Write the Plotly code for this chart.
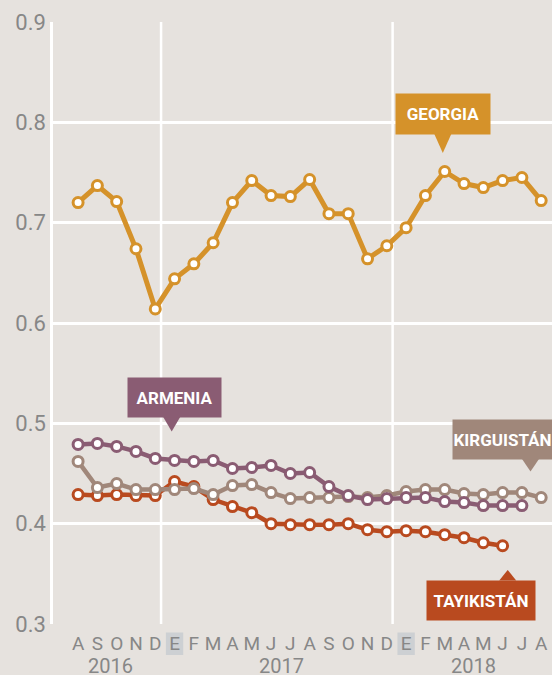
import plotly.graph_objects as go

# -----------------------------
# Data (monthly, Aug 2016 - Aug 2018)
# -----------------------------
months = ["A", "S", "O", "N", "D",
          "E", "F", "M", "A", "M", "J", "J", "A", "S", "O", "N", "D",
          "E", "F", "M", "A", "M", "J", "J", "A"]
years = ["2016", "2017", "2018"]

georgia = [0.720, 0.737, 0.721, 0.674, 0.614,
           0.644, 0.659, 0.680, 0.720, 0.742, 0.727, 0.726, 0.743, 0.709, 0.709, 0.664, 0.677,
           0.695, 0.727, 0.751, 0.739, 0.735, 0.742, 0.745, 0.722]
armenia = [0.479, 0.480, 0.477, 0.472, 0.465,
           0.463, 0.462, 0.463, 0.455, 0.456, 0.458, 0.450, 0.451, 0.437, 0.428, 0.424, 0.425,
           0.426, 0.426, 0.422, 0.421, 0.418, 0.418, 0.418, None]
kirguistan = [0.462, 0.436, 0.440, 0.434, 0.434,
              0.434, 0.435, 0.429, 0.438, 0.439, 0.431, 0.425, 0.426, 0.426, 0.427, 0.426, 0.428,
              0.432, 0.434, 0.434, 0.430, 0.429, 0.431, 0.431, 0.426]
tayikistan = [0.429, 0.428, 0.429, 0.428, 0.428,
              0.442, 0.437, 0.424, 0.417, 0.411, 0.400, 0.399, 0.399, 0.399, 0.400, 0.394, 0.392,
              0.393, 0.392, 0.389, 0.386, 0.381, 0.378, None, None]

x = list(range(len(months)))

BG = "#e6e2de"
GRAY = "#878787"
COLORS = {
    "GEORGIA": "#d5922a",
    "ARMENIA": "#8a5c73",
    "KIRGUISTÁN": "#a0877a",
    "TAYIKISTÁN": "#b94a1f",
}

# plot area in pixels (for label boxes)
L, R, T, B = 53, 552, 22, 624


def px(xp, yp):
    return (xp - L) / (R - L), (B - yp) / (B - T)


fig = go.Figure()

series = [("TAYIKISTÁN", tayikistan, 4.5), ("KIRGUISTÁN", kirguistan, 4.5),
          ("ARMENIA", armenia, 4.5), ("GEORGIA", georgia, 5)]
for name, vals, w in series:
    c = COLORS[name]
    fig.add_trace(go.Scatter(
        x=x, y=vals, mode="lines+markers", name=name,
        line=dict(color=c, width=w),
        marker=dict(size=10, color="white", line=dict(color=c, width=3)),
        showlegend=False, hoverinfo="skip", cliponaxis=False
    ))

shapes = []
# year separators
for xv in [4.3, 16.3]:
    shapes.append(dict(type="line", xref="x", yref="paper", x0=xv, x1=xv, y0=0, y1=1,
                       line=dict(color="white", width=2.5), layer="below"))
# highlighted "E" ticks
for xv in [5, 17]:
    y0 = px(0, 655)[1]
    y1 = px(0, 632.5)[1]
    shapes.append(dict(type="rect", xref="x", yref="paper", x0=xv - 0.45, x1=xv + 0.45,
                       y0=y0, y1=y1, fillcolor="#cdd0d3", line=dict(width=0), layer="below"))

annotations = []
# label boxes: (name, center x px, center y px, width, height, tip x px, tip y px)
boxes = [
    ("GEORGIA", 442.8, 114, 94, 40, 442.8, 153),
    ("ARMENIA", 174, 397.5, 93, 39, 171.7, 431.5),
    ("KIRGUISTÁN", 502.7, 439.5, 99, 39, 530.5, 471.5),
    ("TAYIKISTÁN", 480.8, 600, 108, 39, 507.7, 570),
]
for name, cx, cy, w, h, tx, ty in boxes:
    c = COLORS[name]
    ax, ay = px(cx, cy)
    annotations.append(dict(
        x=ax, y=ay, xref="paper", yref="paper", text="<b>%s</b>" % name,
        showarrow=False, width=w, height=h, bgcolor=c, borderpad=0,
        font=dict(family="Roboto", size=17, color="white"),
        xanchor="center", yanchor="middle", align="center", valign="middle"
    ))
    base = cy + h / 2 if ty > cy else cy - h / 2
    p1 = px(tx - 8.5, base)
    p2 = px(tx + 8.5, base)
    p3 = px(tx, ty)
    shapes.append(dict(
        type="path", xref="paper", yref="paper",
        path="M %f %f L %f %f L %f %f Z" % (p1[0], p1[1], p2[0], p2[1], p3[0], p3[1]),
        fillcolor=c, line=dict(width=0)
    ))

# year labels under month ticks
for yr, xv in zip(years, [1.7, 10.55, 20.5]):
    annotations.append(dict(
        x=xv, y=px(0, 652)[1], xref="x", yref="paper", text=yr, showarrow=False,
        font=dict(family="Roboto", size=20, color=GRAY),
        xanchor="center", yanchor="top"
    ))

fig.update_layout(
    width=552, height=675,
    margin=dict(l=L, r=552 - R, t=T, b=675 - B),
    paper_bgcolor=BG, plot_bgcolor=BG,
    shapes=shapes, annotations=annotations,
    xaxis=dict(
        range=[-1.3, 24.56], tickvals=x, ticktext=months,
        showgrid=False, zeroline=False, showline=False, ticks="",
        ticklabelstandoff=6,
        tickfont=dict(family="Roboto", size=19, color=GRAY),
        fixedrange=True
    ),
    yaxis=dict(
        range=[0.3, 0.9], tickvals=[0.3, 0.4, 0.5, 0.6, 0.7, 0.8, 0.9],
        ticktext=["0.3", "0.4", "0.5", "0.6", "0.7", "0.8", "0.9"],
        showgrid=True, gridcolor="white", gridwidth=2.5,
        zeroline=False, showline=True, linecolor="white", linewidth=2.5,
        ticks="", ticklabelstandoff=0,
        tickfont=dict(family="Roboto", size=22, color=GRAY),
        fixedrange=True
    ),
)

fig.write_html("out.html", config={"displayModeBar": False},
               post_script="document.body.style.margin='0';")
